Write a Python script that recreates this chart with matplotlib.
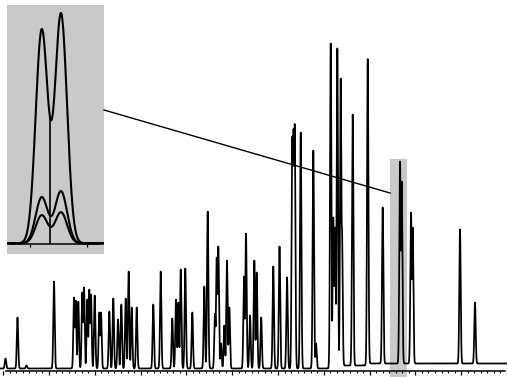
import numpy as np
import matplotlib
matplotlib.use("Agg")
import matplotlib.pyplot as plt
from matplotlib.patches import Rectangle
from matplotlib.lines import Line2D
from matplotlib.ticker import MultipleLocator

GRAY = "#c9c9c9"

# peak table of the chromatogram: retention time (min) and height (detector units)
peak_rt = [0.050, 0.312, 0.509, 1.109, 1.546, 1.583, 1.640, 1.727, 1.764, 1.836,
           1.880, 1.917, 1.998, 2.098, 2.135, 2.317, 2.404, 2.507, 2.579, 2.675,
           2.740, 2.806, 2.915, 3.277, 3.439, 3.692, 3.773, 3.823, 3.876, 3.976,
           4.129, 4.391, 4.465, 4.624, 4.662, 4.697, 4.755, 4.828, 4.886, 4.937,
           5.258, 5.301, 5.389, 5.483, 5.535, 5.633, 5.897, 6.033, 6.197, 6.312,
           6.338, 6.365, 6.496, 6.771, 6.830, 7.151, 7.207, 7.245, 7.295, 7.369,
           7.397, 7.631, 7.959, 8.286, 8.664, 8.701, 8.904, 8.941, 9.974, 10.301]
peak_h = [10, 51, 3, 87, 71, 68, 67, 76, 81, 69,
          79, 74, 73, 56, 56, 57, 70, 49, 64, 70,
          97, 61, 61, 64, 97, 50, 69, 66, 99, 100,
          56, 82, 157, 55, 111, 122, 25, 43, 108, 61,
          92, 135, 53, 108, 96, 51, 102, 122, 91, 231,
          238, 244, 236, 218, 25, 325, 151, 141, 320, 290,
          138, 251, 306, 156, 202, 182, 151, 136, 134, 61]

# baseline drift near the end of the run
drift_rt = [-0.1, 7.40, 7.45, 7.95, 8.00, 11.0]
drift_h = [0, 0, 3, 3, 5, 5]

# zoomed window (inset): two co-eluting peaks recorded on three channels
inset_rt = [8.6705, 8.7041]
inset_h = [[213, 229], [46, 52], [28, 31]]
inset_valley_rt = 8.685

sigma = 0.015
t = np.linspace(-0.07, 11.0, 12000)
peaks = np.array([h * np.exp(-0.5 * ((t - c) / sigma) ** 2) for c, h in zip(peak_rt, peak_h)])
# soft envelope of overlapping peaks
signal = (peaks ** 3).sum(axis=0) ** (1 / 3) + np.interp(t, drift_rt, drift_h)

fig = plt.figure(figsize=(5.07, 3.77), dpi=100)
ax = fig.add_axes([0, 0, 1, 1])
ax.set_xlim(-3.2 / 45.8, 503.8 / 45.8)
ax.set_ylim(-8.5, 368.5)
ax.plot(t, signal, color="black", lw=1.25, zorder=3)

# highlighted window
ax.add_patch(Rectangle((8.445, -8.5), 0.361, 218, facecolor=GRAY, edgecolor="none", zorder=0))

for s in ["top", "left", "right"]:
    ax.spines[s].set_visible(False)
ax.spines["bottom"].set_position(("data", -2.5))
ax.spines["bottom"].set_bounds(0.06, 10.96)
ax.spines["bottom"].set_linewidth(1.1)
ax.xaxis.set_major_locator(MultipleLocator(1))
ax.xaxis.set_minor_locator(MultipleLocator(1 / 7))
ax.tick_params(axis="x", which="major", direction="out", length=3, width=0.9, labelbottom=False)
ax.tick_params(axis="x", which="minor", direction="out", length=1.6, width=0.8)
ax.set_yticks([])
ax.patch.set_alpha(0)

# inset
ti = np.linspace(8.610, 8.779, 600)
ins = fig.add_axes([7 / 507, 1 - 254 / 377, 97 / 507, 249 / 377])
ins.set_facecolor(GRAY)
ins.set_xlim(8.610, 8.779)
ins.set_ylim(-10.7, 238.3)
s_in = 0.0105
big = None
for hs in inset_h:
    y = sum(h * np.exp(-0.5 * ((ti - c) / s_in) ** 2) for c, h in zip(inset_rt, hs))
    if big is None:
        big = y
    ins.plot(ti, y, color="black", lw=1.5)
valley = np.interp(inset_valley_rt, ti, big)
ins.plot([inset_valley_rt, inset_valley_rt], [0, valley], color="black", lw=1.2)
for s in ["top", "left", "right"]:
    ins.spines[s].set_visible(False)
ins.spines["bottom"].set_position(("data", -1))
ins.spines["bottom"].set_bounds(8.616, 8.772)
ins.spines["bottom"].set_linewidth(1.1)
ins.set_xticks([8.65, 8.75])
ins.tick_params(axis="x", direction="out", length=2.5, width=0.9, labelbottom=False)
ins.set_yticks([])

# leader line from inset to highlighted window
fig.add_artist(Line2D([104 / 507, 390 / 507], [1 - 110 / 377, 1 - 193 / 377],
                      color="black", lw=1.0))

fig.savefig("out.png", dpi=100)
